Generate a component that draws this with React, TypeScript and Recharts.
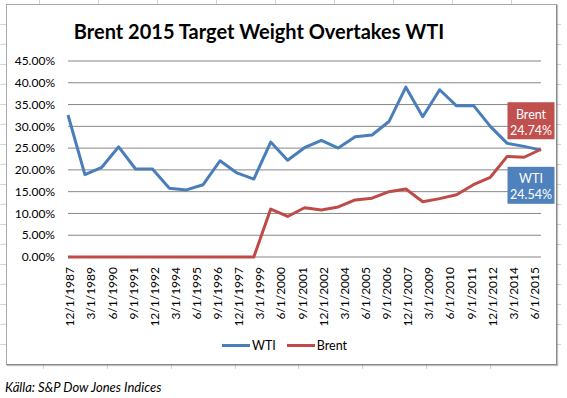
import React from "react";
import { LineChart, Line, XAxis, YAxis, CartesianGrid, LabelList } from "recharts";

// ---- data ----
const dates = [
  "12/1/1987", "12/1/1988", "12/1/1989", "12/1/1990", "12/1/1991", "12/1/1992",
  "12/1/1993", "12/1/1994", "12/1/1995", "12/1/1996", "12/1/1997", "12/1/1998",
  "12/1/1999", "12/1/2000", "12/1/2001", "12/1/2002", "12/1/2003", "12/1/2004",
  "12/1/2005", "12/1/2006", "12/1/2007", "12/1/2008", "12/1/2009", "12/1/2010",
  "12/1/2011", "12/1/2012", "12/1/2013", "12/1/2014", "12/1/2015",
];
const wti = [
  32.6, 18.9, 20.6, 25.3, 20.2, 20.2, 15.8, 15.4, 16.6, 22.1, 19.3, 17.9,
  26.4, 22.2, 25.1, 26.8, 25.0, 27.6, 28.0, 31.1, 39.0, 32.2, 38.4, 34.7,
  34.8, 30.0, 26.1, 25.4, 24.54,
];
const brent = [
  0, 0, 0, 0, 0, 0, 0, 0, 0, 0, 0, 0,
  11.0, 9.3, 11.3, 10.8, 11.5, 13.1, 13.5, 15.0, 15.6, 12.7, 13.4, 14.3,
  16.6, 18.3, 23.1, 22.9, 24.74,
];
const seriesNames = ["WTI", "Brent"];
const xTickLabels = [
  "12/1/1987", "3/1/1989", "6/1/1990", "9/1/1991", "12/1/1992", "3/1/1994",
  "6/1/1995", "9/1/1996", "12/1/1997", "3/1/1999", "6/1/2000", "9/1/2001",
  "12/1/2002", "3/1/2004", "6/1/2005", "9/1/2006", "12/1/2007", "3/1/2009",
  "6/1/2010", "9/1/2011", "12/1/2012", "3/1/2014", "6/1/2015",
];
const yTicks = [0, 5, 10, 15, 20, 25, 30, 35, 40, 45];
const title = "Brent 2015 Target Weight Overtakes WTI";
const source = "Källa: S&P Dow Jones Indices";

// ---- helpers ----
const toMonths = (s: string) => {
  const [m, , y] = s.split("/").map(Number);
  return y * 12 + (m - 1);
};
const data = dates.map((d, i) => ({ m: toMonths(d), WTI: wti[i], Brent: brent[i] }));
const xTicks = xTickLabels.map(toMonths);
const tickLabelMap: Record<number, string> = {};
xTickLabels.forEach((l) => (tickLabelMap[toMonths(l)] = l));

const FONT = "Lato, 'Open Sans', sans-serif";
const BLUE = "#4a7ebb";
const RED = "#be4b48";
const lastIdx = dates.length - 1;

const XTick = (props: any) => {
  const { x, y, payload } = props;
  const tx = x + 2;
  return (
    <text
      x={tx}
      y={y}
      transform={`rotate(-90 ${tx} ${y})`}
      textAnchor="end"
      dy="0.36em"
      fontSize={12}
      fontFamily={FONT}
      fill="#000"
    >
      {tickLabelMap[payload.value]}
    </text>
  );
};

const makeEndLabel = (name: string, color: string, above: boolean) => (props: any) => {
  const { x, y, index, value } = props;
  if (index !== lastIdx) return <g />;
  const bx = x - 33.5;
  const by = above ? y - 47 : y + 16.7;
  const cx = x - 10;
  return (
    <g>
      <rect x={bx} y={by} width={47} height={37} fill={color} />
      <text x={cx} y={by + 16.5} textAnchor="middle" fontSize={12.5} fontFamily={FONT} fill="#fff">
        {name}
      </text>
      <text x={cx} y={by + 32.5} textAnchor="middle" fontSize={12.5} fontFamily={FONT} fill="#fff">
        {Number(value).toFixed(2) + "%"}
      </text>
    </g>
  );
};

const topTicks = [39, 98, 157, 216, 275, 334, 393, 452, 511];
const sideTicks = [24, 44, 64, 84, 104, 124, 144, 164, 184, 204, 224, 244, 264, 284, 304, 324, 344];
const bottomTicks = [43, 107, 171, 235, 298, 362, 426, 490];

export default function App() {
  return (
    <div
      style={{
        position: "absolute",
        left: 0,
        top: 0,
        width: 567,
        height: 398,
        background: "#fff",
        overflow: "hidden",
        fontFamily: FONT,
      }}
    >
      <svg width={567} height={398} style={{ position: "absolute", left: 0, top: 0 }}>
        {topTicks.map((t) => (
          <line key={"t" + t} x1={t + 0.5} x2={t + 0.5} y1={0} y2={4} stroke="#d4d4d4" />
        ))}
        {sideTicks.map((t) => (
          <g key={"s" + t}>
            <line x1={0} x2={6} y1={t + 0.5} y2={t + 0.5} stroke="#d4d4d4" />
            <line x1={557} x2={561} y1={t + 0.5} y2={t + 0.5} stroke="#d4d4d4" />
          </g>
        ))}
        {bottomTicks.map((t) => (
          <line key={"b" + t} x1={t + 0.5} x2={t + 0.5} y1={365} y2={369} stroke="#d4d4d4" />
        ))}
      </svg>
      <div
        style={{
          position: "absolute",
          left: 6,
          top: 4,
          width: 551,
          height: 361,
          boxSizing: "border-box",
          background: "#fff",
          borderTop: "1px solid #a8a8a8",
          borderLeft: "1px solid #a8a8a8",
          borderRight: "1px solid #8a8a8a",
          borderBottom: "1px solid #8a8a8a",
          boxShadow: "1px 1px 1px rgba(0,0,0,0.25)",
        }}
      />
      <div
        style={{
          position: "absolute",
          left: 0,
          width: 518,
          top: 18,
          textAlign: "center",
          fontSize: 20,
          fontWeight: 700,
          color: "#000",
          lineHeight: "26px",
          whiteSpace: "nowrap",
        }}
      >
        {title}
      </div>
      <div style={{ position: "absolute", left: 0, top: 0 }}>
        <LineChart
          width={567}
          height={398}
          data={data}
          margin={{ top: 61, right: 26, bottom: 71, left: 0 }}
        >
          <CartesianGrid horizontal vertical={false} stroke="#868686" strokeWidth={1} />
          <XAxis
            dataKey="m"
            type="number"
            domain={[data[0].m, data[lastIdx].m]}
            ticks={xTicks}
            interval={0}
            tick={<XTick />}
            tickLine={false}
            axisLine={false}
            tickSize={0}
            tickMargin={10}
            height={70}
          />
          <YAxis
            type="number"
            domain={[0, 45]}
            ticks={yTicks}
            interval={0}
            tickFormatter={(v: number) => v.toFixed(2) + "%"}
            tick={{ fontSize: 12, fontFamily: FONT, fill: "#000" }}
            tickLine={false}
            axisLine={false}
            tickSize={0}
            tickMargin={13}
            width={68}
          />
          <Line
            dataKey="WTI"
            stroke={BLUE}
            strokeWidth={3}
            dot={false}
            strokeLinejoin="round"
            isAnimationActive={false}
          >
            <LabelList dataKey="WTI" content={makeEndLabel("WTI", "#4f81bd", false)} />
          </Line>
          <Line
            dataKey="Brent"
            stroke={RED}
            strokeWidth={3}
            dot={false}
            strokeLinejoin="round"
            isAnimationActive={false}
          >
            <LabelList dataKey="Brent" content={makeEndLabel("Brent", "#c0504d", true)} />
          </Line>
        </LineChart>
      </div>
      {/* legend */}
      <div style={{ position: "absolute", left: 222, top: 337, display: "flex", alignItems: "center", fontSize: 12.5, color: "#000", height: 16 }}>
        <span style={{ display: "inline-block", width: 28, height: 3, background: BLUE, marginRight: 2 }} />
        <span style={{ marginRight: 11 }}>{seriesNames[0]}</span>
        <span style={{ display: "inline-block", width: 28, height: 3, background: RED, marginRight: 2 }} />
        <span>{seriesNames[1]}</span>
      </div>
      <div
        style={{
          position: "absolute",
          left: 5,
          top: 380,
          fontSize: 13,
          fontStyle: "italic",
          color: "#000",
          lineHeight: "14px",
          whiteSpace: "nowrap",
        }}
      >
        {source}
      </div>
    </div>
  );
}
